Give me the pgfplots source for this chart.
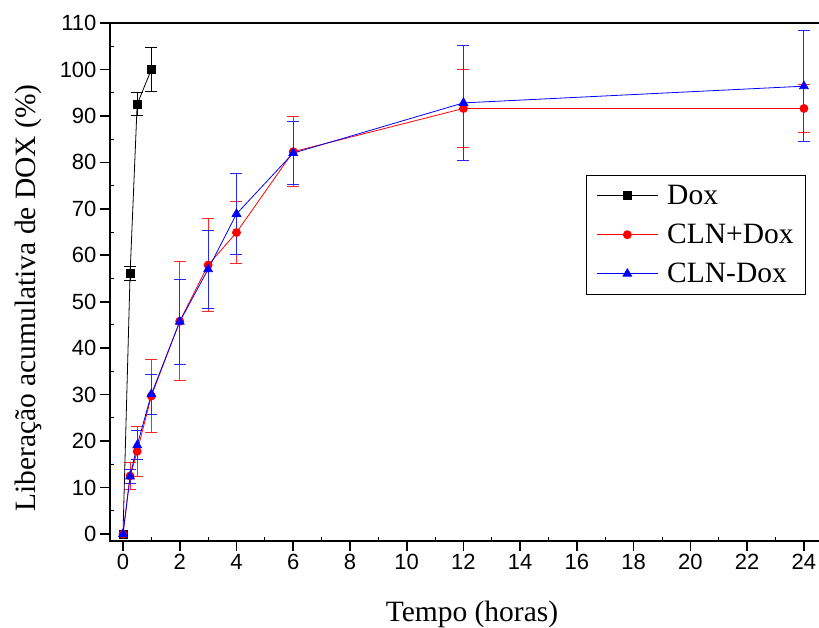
\documentclass[border=0pt]{standalone}
\usepackage{pgfplots}
\pgfplotsset{compat=1.18}
\usepackage{fontspec}
\setmainfont{Liberation Serif}
\newfontfamily\arialf{Liberation Sans}
\begin{document}
\begin{tikzpicture}
\path[use as bounding box] (-110pt,-87pt) rectangle (709pt,541pt);
\begin{axis}[
  at={(0pt,0pt)}, anchor=south west,
  scale only axis, width=724pt, height=518pt,
  xmin=-0.458, xmax=25.06, ymin=-1.5, ymax=110,
  xtick={0,2,...,24}, ytick={0,10,...,110},
  minor x tick num=1, minor y tick num=1,
  xtick pos=bottom, ytick pos=left,
  tick align=outside,
  major tick length=10pt, minor tick length=-4pt,
  axis line style={line width=1.6pt},
  every tick/.style={black, line width=1.6pt},
  every minor tick/.style={black, line width=1pt},
  /pgf/number format/assume math mode=true,
  tick label style={font=\arialf\fontsize{22}{24}\selectfont},
  xlabel={Tempo (horas)},
  ylabel={Liberação acumulativa de DOX (\%)},
  every axis x label/.style={at={(axis description cs:0.5,-0.1556)}, anchor=base, font=\fontsize{29.5}{32}\selectfont},
  every axis y label/.style={at={(axis description cs:-0.1133,0.469)}, anchor=center, rotate=90, font=\fontsize{29.5}{32}\selectfont},
  legend style={at={(axis description cs:0.6575,0.7066)}, anchor=north west,
    draw=black, line width=0.8pt, font=\fontsize{29.5}{30}\selectfont,
    inner xsep=10pt, inner ysep=8pt, row sep=14pt},
  legend cell align=left,
  legend image code/.code={\draw[mark repeat=2,mark phase=2,#1] plot coordinates {(0pt,0pt) (30.5pt,0pt) (61pt,0pt)};},
]
% error bars (drawn first)
\addplot[forget plot, only marks, mark=none, black,
  error bars/.cd, y dir=both, y explicit,
  error bar style={black, line width=0.9pt},
  error mark options={black, rotate=90, mark size=6pt, line width=0.9pt}]
  table[x index=0, y index=1, y error index=2] {
0.25 56 1.5
0.5 92.5 2.5
1 100 4.7
};
\addplot[forget plot, only marks, mark=none, red,
  error bars/.cd, y dir=both, y explicit,
  error bar style={red!85, line width=0.9pt},
  error mark options={red!85, rotate=90, mark size=6pt, line width=0.9pt}]
  table[x index=0, y index=1, y error index=2] {
0.25 12.5 3.0
0.5 17.8 5.4
1 29.7 7.8
2 45.8 12.8
3 57.9 10.0
4 64.9 6.6
6 82.3 7.5
12 91.6 8.4
24 91.6 5.1
};
\addplot[forget plot, only marks, mark=none, blue,
  error bars/.cd, y dir=both, y explicit,
  error bar style={blue!85, line width=0.9pt},
  error mark options={blue!85, rotate=90, mark size=6pt, line width=0.9pt}]
  table[x index=0, y index=1, y error index=2] {
0.25 12.4 1.5
0.5 19.1 3.1
1 30.1 4.3
2 45.7 9.2
3 57.0 8.4
4 68.9 8.7
6 82.0 6.8
12 92.8 12.4
24 96.4 12.0
};
% lines
\addplot[black, line width=0.8pt, mark=square*, mark size=4pt, mark options={solid, fill=black}]
  table {
0 0
0.25 56
0.5 92.5
1 100
};
\addlegendentry{\hspace{7pt}Dox}
\addplot[red, line width=0.8pt, mark=*, mark size=4pt, mark options={solid, fill=red}]
  table {
0 0
0.25 12.5
0.5 17.8
1 29.7
2 45.8
3 57.9
4 64.9
6 82.3
12 91.6
24 91.6
};
\addlegendentry{\hspace{7pt}CLN+Dox}
\addplot[blue, line width=0.8pt, mark=triangle*, mark size=5pt, mark options={solid, fill=blue}]
  table {
0 0
0.25 12.4
0.5 19.1
1 30.1
2 45.7
3 57.0
4 68.9
6 82.0
12 92.8
24 96.4
};
\addlegendentry{\hspace{7pt}CLN-Dox}
\end{axis}
\end{tikzpicture}
\end{document}
